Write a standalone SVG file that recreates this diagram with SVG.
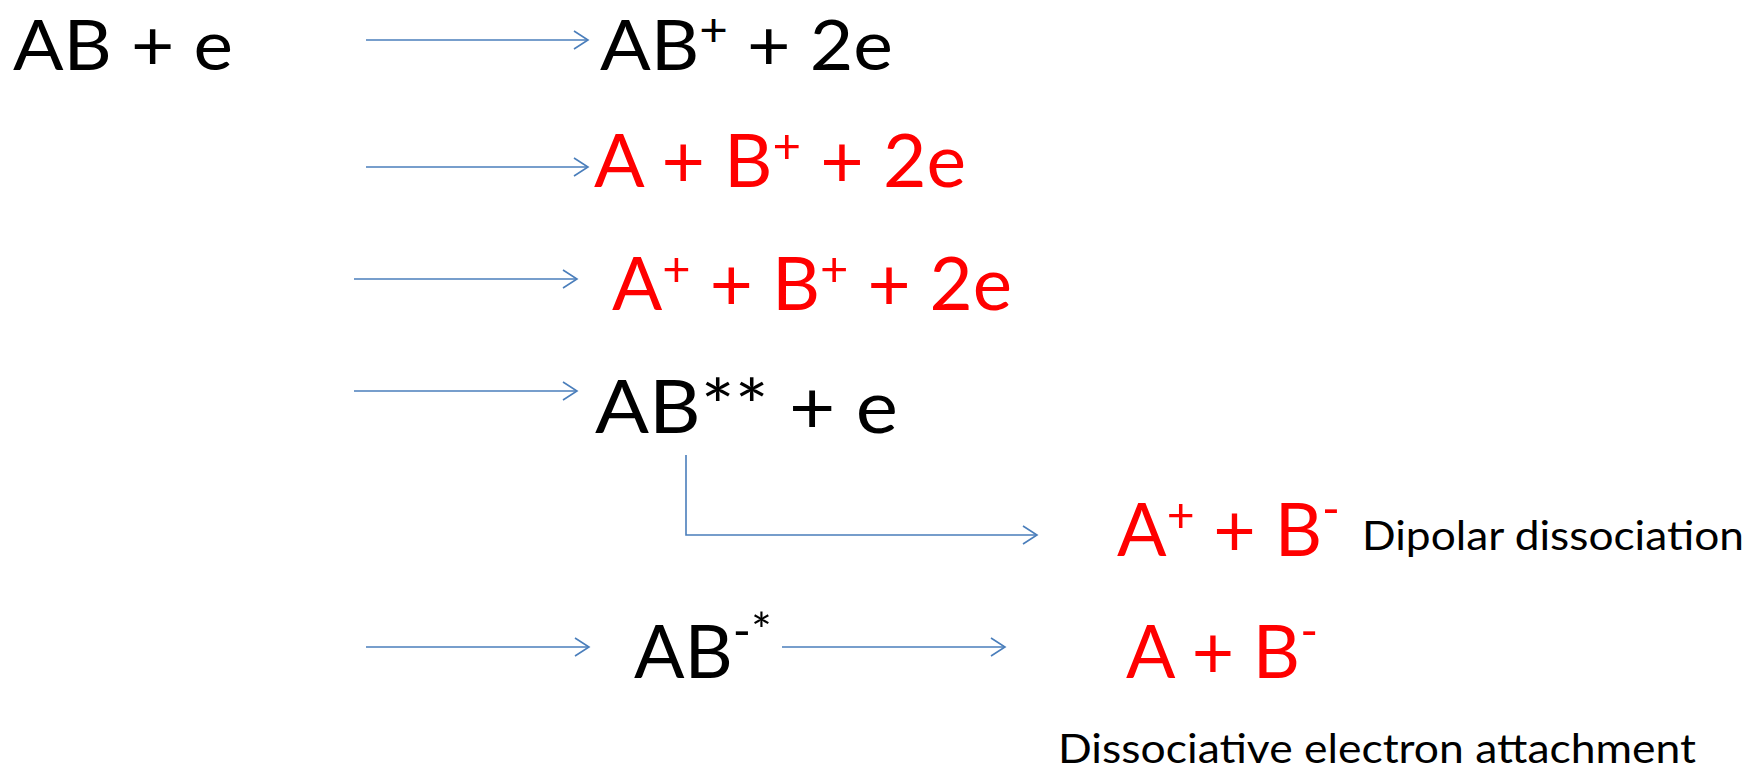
<svg xmlns="http://www.w3.org/2000/svg" width="1758" height="769" viewBox="0 0 1758 769">
<style>
.big{font-family:Lato,"Open Sans","Liberation Sans",sans-serif;font-size:73px}
.top{font-size:70px}
.small{font-family:Lato,"Open Sans","Liberation Sans",sans-serif;font-size:41px;fill:#000}
.blk{fill:#000}
.red{fill:#ff0000}
.sup{font-size:48px}
.top .sup{font-size:46px}
.conn{fill:none;stroke:#4a7ebb;stroke-width:1.6}
</style>
<defs>
<marker id="arr" markerUnits="userSpaceOnUse" markerWidth="20" markerHeight="24" viewBox="-16 -12 20 24" refX="0" refY="0" orient="auto">
<path d="M-14,-9 L0,0 L-14,9" fill="none" stroke="#4a7ebb" stroke-width="1.6"/>
</marker>
</defs>
<rect width="1758" height="769" fill="#fff"/>
<g id="connectors">
<line class="conn" x1="366" y1="40" x2="588" y2="40" marker-end="url(#arr)"/>
<line class="conn" x1="366" y1="167" x2="588" y2="167" marker-end="url(#arr)"/>
<line class="conn" x1="354" y1="279" x2="577" y2="279" marker-end="url(#arr)"/>
<line class="conn" x1="354" y1="391" x2="577" y2="391" marker-end="url(#arr)"/>
<polyline class="conn" points="686,455 686,535 1037,535" marker-end="url(#arr)"/>
<line class="conn" x1="366" y1="647" x2="589" y2="647" marker-end="url(#arr)"/>
<line class="conn" x1="782" y1="647" x2="1005" y2="647" marker-end="url(#arr)"/>
</g>
<g id="n-ab-e"><text class="big top blk" x="13" y="70" textLength="220" lengthAdjust="spacingAndGlyphs">AB + e</text></g>
<g id="n-abplus"><text class="big top blk" x="600" y="70" textLength="293" lengthAdjust="spacingAndGlyphs">AB<tspan class="sup" dy="-24">+</tspan><tspan dy="24"> + 2e</tspan></text></g>
<g id="n-a-bplus"><text class="big red" x="594" y="187" textLength="372" lengthAdjust="spacingAndGlyphs">A + B<tspan class="sup" dy="-24">+</tspan><tspan dy="24"> + 2e</tspan></text></g>
<g id="n-aplus-bplus"><text class="big red" x="612" y="310" textLength="400" lengthAdjust="spacingAndGlyphs">A<tspan class="sup" dy="-24">+</tspan><tspan dy="24"> + B</tspan><tspan class="sup" dy="-24">+</tspan><tspan dy="24"> + 2e</tspan></text></g>
<g id="n-abss"><text class="big blk" x="595" y="433" textLength="303" lengthAdjust="spacingAndGlyphs">AB** + e</text></g>
<g id="n-aplus-bminus"><text class="big red" x="1117" y="556" textLength="223" lengthAdjust="spacingAndGlyphs">A<tspan class="sup" dy="-24">+</tspan><tspan dy="24"> + B</tspan><tspan class="sup" dy="-30">-</tspan></text></g>
<g id="n-dipolar"><text class="small" x="1362" y="550" textLength="382" lengthAdjust="spacingAndGlyphs">Dipolar dissociation</text></g>
<g id="n-abminus"><text class="big blk" x="634" y="678" textLength="138" lengthAdjust="spacingAndGlyphs">AB<tspan class="sup" dy="-30">-*</tspan></text></g>
<g id="n-a-bminus"><text class="big red" x="1126" y="678" textLength="192" lengthAdjust="spacingAndGlyphs">A + B<tspan class="sup" dy="-30">-</tspan></text></g>
<g id="n-dea"><text class="small" x="1058" y="763" textLength="638" lengthAdjust="spacingAndGlyphs">Dissociative electron attachment</text></g>
</svg>
